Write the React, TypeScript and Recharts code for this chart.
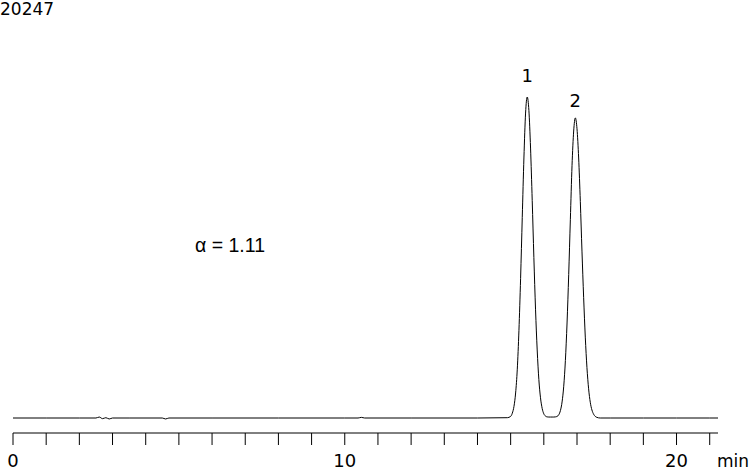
import React from 'react';
import { LineChart, Line, XAxis, YAxis, ReferenceDot } from 'recharts';

// Baseline before the peaks (min, signal)
const BASE_TIME = [0, 1, 2, 2.5, 2.6, 2.7, 2.8, 2.9, 3.0, 3.5, 4.5, 4.6, 4.7, 6, 8, 10, 10.4, 10.5, 10.6, 12, 14, 14.9];
const BASE_SIGNAL = [0, 0, 0, 0, 0.3, -0.2, 0.1, -0.3, 0, 0, 0, -0.3, 0, 0, 0, 0, 0, 0.2, 0, 0, 0, 0.1];

// Peak 1 (tR ~ 15.5 min)
const PEAK1_TIME = [15.0, 15.05, 15.1, 15.15, 15.2, 15.25, 15.3, 15.35, 15.4, 15.45, 15.5, 15.55, 15.6, 15.65, 15.7, 15.75, 15.8, 15.85, 15.9, 15.95, 16.0, 16.05, 16.1, 16.15];
const PEAK1_SIGNAL = [0.5, 1.5, 3.6, 7.8, 15.2, 27.3, 43.5, 62.5, 81, 95, 100, 95.8, 84.1, 67.8, 50, 33.9, 21.2, 12.0, 6.3, 3.0, 1.3, 0.6, 0.35, 0.3];

// Peak 2 (tR ~ 16.95 min)
const PEAK2_TIME = [16.2, 16.25, 16.3, 16.35, 16.4, 16.45, 16.5, 16.55, 16.6, 16.65, 16.7, 16.75, 16.8, 16.85, 16.9, 16.95, 17.0, 17.05, 17.1, 17.15, 17.2, 17.25, 17.3, 17.35, 17.4, 17.45, 17.5, 17.55, 17.6, 17.7];
const PEAK2_SIGNAL = [0.3, 0.3, 0.3, 0.35, 0.5, 1.0, 2.3, 5.0, 9.9, 17.9, 29.6, 44.7, 61.9, 78.6, 89.4, 93.5, 90.1, 81.0, 67.5, 52.0, 37.6, 25.2, 15.7, 9.1, 4.9, 2.5, 1.2, 0.5, 0.2, 0];

// Baseline after the peaks
const TAIL_TIME = [18, 19, 20, 21, 21.25];
const TAIL_SIGNAL = [0, 0, 0, 0, 0];

const X_TICKS = Array.from({ length: 22 }, (_, i) => i);
const PEAK_LABELS = [
  { t: 15.5, h: 100, name: '1', offset: 15 },
  { t: 16.95, h: 93.5, name: '2', offset: 11 },
];

const data = [
  ...BASE_TIME.map((t, i) => ({ t, v: BASE_SIGNAL[i] })),
  ...PEAK1_TIME.map((t, i) => ({ t, v: PEAK1_SIGNAL[i] })),
  ...PEAK2_TIME.map((t, i) => ({ t, v: PEAK2_SIGNAL[i] })),
  ...TAIL_TIME.map((t, i) => ({ t, v: TAIL_SIGNAL[i] })),
];

const FONT = '"DejaVu Sans", Verdana, sans-serif';

const TimeTick = (props: any) => {
  const { x, payload } = props;
  if (payload.value % 10 !== 0) return <g />;
  return (
    <text x={x} y={467} textAnchor="middle" fontFamily={FONT} fontSize={18} fill="#000">
      {payload.value}
    </text>
  );
};

export default function App() {
  return (
    <div style={{ position: 'absolute', left: 0, top: 0, width: 750, height: 471, background: '#fff', overflow: 'hidden' }}>
      <LineChart width={750} height={471} data={data} margin={{ top: 97, right: 32, bottom: 0, left: 13 }}>
        <XAxis
          dataKey="t"
          type="number"
          domain={[0, 21.25]}
          ticks={X_TICKS}
          interval={0}
          height={38}
          tickSize={12}
          axisLine={{ stroke: '#000' }}
          tickLine={{ stroke: '#000' }}
          tick={<TimeTick />}
        />
        <YAxis hide domain={[-4.67, 100]} allowDataOverflow />
        <Line type="monotone" dataKey="v" stroke="#000" strokeWidth={1} dot={false} isAnimationActive={false} />
        {PEAK_LABELS.map((p) => (
          <ReferenceDot
            key={p.name}
            x={p.t}
            y={p.h}
            r={0}
            stroke="none"
            label={{ value: p.name, position: 'top', offset: p.offset, fontFamily: FONT, fontSize: 18, fill: '#000' }}
          />
        ))}
      </LineChart>
      <svg width={750} height={471} style={{ position: 'absolute', left: 0, top: 0, pointerEvents: 'none' }}>
        <text x={0} y={15} fontFamily={FONT} fontSize={17} fill="#000">20247</text>
        <text x={195} y={252} fontFamily='"Liberation Sans", Arial, sans-serif' fontSize={19.5} fill="#000">α = 1.11</text>
        <text x={717} y={467} fontFamily={FONT} fontSize={17} fill="#000">min</text>
      </svg>
    </div>
  );
}
